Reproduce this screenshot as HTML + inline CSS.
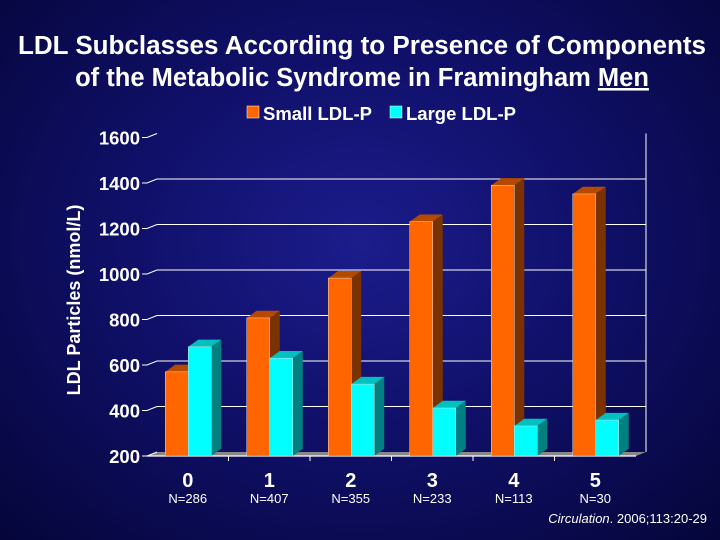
<!DOCTYPE html>
<html><head><meta charset="utf-8"><style>
html,body{margin:0;padding:0}
body{width:720px;height:540px;overflow:hidden;background:radial-gradient(ellipse at 50% 45%,#1c1c8c 0%,#10106a 45%,#05053a 100%);font-family:"Liberation Sans",Arial,sans-serif;color:#fff}
svg{position:absolute;left:0;top:0}
</style></head><body>
<svg width="720" height="540">
<text x="362" y="54" text-anchor="middle" font-size="25.5" font-weight="bold" fill="#fff" textLength="688" lengthAdjust="spacingAndGlyphs">LDL Subclasses According to Presence of Components</text>
<text x="362" y="86" text-anchor="middle" font-size="25.5" font-weight="bold" fill="#fff">of the Metabolic Syndrome in Framingham <tspan text-decoration="underline">Men</tspan></text>
<g>
<rect x="247" y="106" width="12" height="12" fill="#ff6600" stroke="#fff" stroke-width="0.5"/>
<text x="263" y="120" font-size="18.5" font-weight="bold" fill="#fff">Small LDL-P</text>
<rect x="390" y="106" width="12" height="12" fill="#00ffff" stroke="#fff" stroke-width="0.5"/>
<text x="406" y="120" font-size="18.5" font-weight="bold" fill="#fff">Large LDL-P</text>
</g>
<text transform="translate(80,300) rotate(-90)" text-anchor="middle" font-size="18" font-weight="bold" fill="#fff">LDL Particles (nmol/L)</text>
<g id="plot"></g>
<text x="707" y="523" text-anchor="end" font-size="13" fill="#fff"><tspan font-style="italic">Circulation</tspan>. 2006;113:20-29</text>
</svg>
<script>
const categories=["0","1","2","3","4","5"];
const nLabels=["N=286","N=407","N=355","N=233","N=113","N=30"];
const smallLDL=[570,807,982,1230,1390,1352];
const largeLDL=[680,630,516,411,332,358];
const yTicks=[200,400,600,800,1000,1200,1400,1600];
const NS="http://www.w3.org/2000/svg";
const g=document.getElementById('plot');
const x0=147,x1=636,yBase=456,dx=10,dy=4;
function y(v){return yBase-(v-200)*45.5/200;}
function mk(t,a){const e=document.createElementNS(NS,t);for(const k in a)e.setAttribute(k,a[k]);g.appendChild(e);return e;}
let e=mk('polygon',{points:`${x0},${yBase} ${x0+dx},${yBase-dy} ${x1+dx},${yBase-dy} ${x1},${yBase}`,fill:'#888'});


e=mk('line',{x1:x1+dx,y1:y(1600)-dy,x2:x1+dx,y2:yBase-dy,stroke:'#fff','stroke-width':1});


yTicks.forEach(v=>{
 const yy=y(v);
 if(v>200&&v<1600){
  e=mk('line',{x1:x0+dx,y1:yy-dy,x2:x1+dx,y2:yy-dy,stroke:'#fff','stroke-width':1});
  
  
 }
 e=mk('polyline',{points:`${x0-5},${yy} ${x0},${yy} ${x0+dx},${yy-dy}`,fill:'none',stroke:'#fff','stroke-width':1});
 
 
 e=mk('text',{x:x0-7,y:yy+7,'text-anchor':'end','font-size':18.5,'font-weight':'bold',fill:'#fff'});
 e.textContent=v;
 
 
});
e=mk('line',{x1:x0,y1:yBase,x2:x1,y2:yBase,stroke:'#fff','stroke-width':1.2});


const gw=(x1-x0)/categories.length,bw=23;
function bar(x,v,front,side,top,name){
 const yt=y(v);
 let r=mk('polygon',{points:`${x+bw},${yt} ${x+bw+dx},${yt-dy*1.8} ${x+bw+dx},${yBase-dy*1.8} ${x+bw},${yBase}`,fill:side});
 
 
 r=mk('polygon',{points:`${x},${yt} ${x+dx},${yt-dy*1.8} ${x+bw+dx},${yt-dy*1.8} ${x+bw},${yt}`,fill:top});
 
 
 r=mk('rect',{x:x,y:yt,width:bw,height:yBase-yt,fill:front,stroke:'#ddd','stroke-width':0.5});
 
 
}
categories.forEach((c,i)=>{
 const cx=x0+gw*(i+0.5);
 bar(cx-bw+0.5,smallLDL[i],'#ff6600','#7a3300','#b44a00','bar-small-'+c);
 bar(cx+0.5,largeLDL[i],'#00ffff','#008080','#00c0c0','bar-large-'+c);
 if(i>0){e=mk('line',{x1:x0+gw*i,y1:yBase,x2:x0+gw*i,y2:yBase+5,stroke:'#fff'});
 
 }
 e=mk('text',{x:cx,y:487,'text-anchor':'middle','font-size':20,'font-weight':'bold',fill:'#fff'});
 e.textContent=c;
 
 
 e=mk('text',{x:cx,y:503,'text-anchor':'middle','font-size':13,fill:'#fff'});
 e.textContent=nLabels[i];
 
 
});
</script>
</body></html>
